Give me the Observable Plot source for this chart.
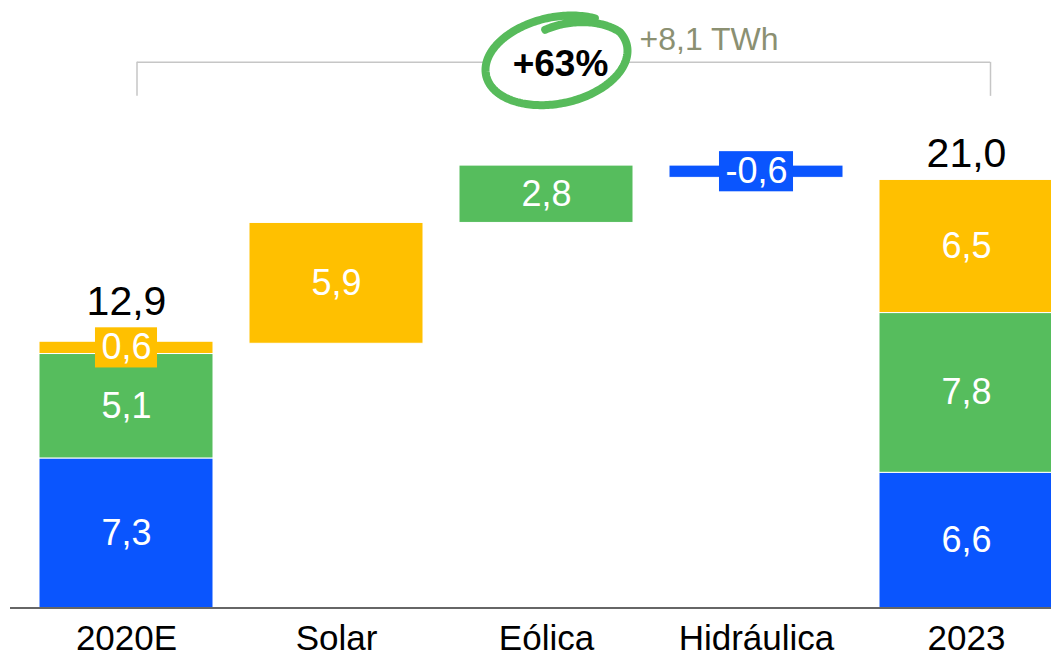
<!DOCTYPE html>
<html>
<head>
<meta charset="utf-8">
<script src="https://cdn.jsdelivr.net/npm/d3@7"></script>
<script src="https://cdn.jsdelivr.net/npm/@observablehq/plot@0.6"></script>
<style>
html, body { margin: 0; padding: 0; background: #fff; overflow: hidden; }
</style>
</head>
<body>
<div id="chart"></div>
<script>
// ---- Data ----
const categories = ["2020E", "Solar", "Eólica", "Hidráulica", "2023"];
const series = ["Hidráulica", "Eólica", "Solar"];
const seriesColors = ["#0a55fe", "#56bd5d", "#ffc000"];
const start2020 = [7.3, 5.1, 0.6];      // Hidráulica, Eólica, Solar
const end2023 = [6.6, 7.8, 6.5];        // Hidráulica, Eólica, Solar
const total2020 = 12.9;
const total2023 = 21.0;
const changeCategories = ["Solar", "Eólica", "Hidráulica"];
const changeValues = [5.9, 2.8, -0.6];
const growthLabel = "+63%";
const growthTWh = "+8,1 TWh";

// ---- Build tables ----
const fmt = v => v.toFixed(1).replace(".", ",");
const segments = [];
function stack(cat, vals) {
  let acc = 0;
  vals.forEach((v, i) => {
    segments.push({cat, series: series[i], y1: acc, y2: acc + v, value: v});
    acc += v;
  });
}
stack("2020E", start2020);
let level = total2020;
changeCategories.forEach((c, i) => {
  const v = changeValues[i];
  segments.push({cat: c, series: c, y1: level, y2: level + v, value: v});
  level += v;
});
stack("2023", end2023);

const boxHalf = 0.98; // half height of label box (in value units)
segments.forEach(d => {
  d.mid = (d.y1 + d.y2) / 2;
  d.label = fmt(d.value);
  d.small = Math.abs(d.value) < 1;
});
const smallSegs = segments.filter(d => d.small);

// approximate label width for background boxes
const glyphW = ch => ch === "," ? 0.278 : ch === "-" ? 0.333 : 0.556;
const labelWidth = s => [...s].reduce((a, c) => a + glyphW(c), 0) * 36 + 13;

const totals = [
  {cat: "2020E", label: fmt(total2020)},
  {cat: "2023", label: fmt(total2023)}
].map(t => {
  const segs = segments.filter(d => d.cat === t.cat);
  const top = d3.max(segs, d => d.small ? d.mid + boxHalf : Math.max(d.y1, d.y2));
  return {...t, top};
});

const bracketTop = 26.64;
const bracketBottom = 24.98;

// hand-drawn loop symbol
const loopSymbol = {
  draw(ctx, size) {
    const r = Math.sqrt(size / Math.PI);
    const a = r, b = r * 0.6, rot = -12 * Math.PI / 180;
    const t0 = 50, t1 = 455, n = 240;
    for (let i = 0; i <= n; i++) {
      const deg = t0 + (t1 - t0) * i / n;
      const t = deg * Math.PI / 180;
      const s = deg > 380 ? 1 - 0.25 * (deg - 380) / 75 : 1;
      const ex = a * s * Math.cos(t), ey = -b * s * Math.sin(t);
      const x = ex * Math.cos(rot) - ey * Math.sin(rot);
      const y = ex * Math.sin(rot) + ey * Math.cos(rot);
      if (i) ctx.lineTo(x, y); else ctx.moveTo(x, y);
    }
  }
};

const font = "'Liberation Sans', Arial, Helvetica, sans-serif";

const chart = Plot.plot({
  width: 1051,
  height: 658,
  marginTop: 0,
  marginBottom: 50.5,
  marginLeft: 10,
  marginRight: 0,
  style: {fontFamily: font, fontSize: "35px", color: "#000", background: "#fff", overflow: "hidden", maxWidth: "none"},
  x: {domain: categories, range: [10, 1082], paddingInner: 0.17, paddingOuter: 0.128, tickSize: 0, tickPadding: 17, label: null},
  y: {domain: [0, 29.66], axis: null},
  color: {domain: series, range: seriesColors},
  marks: [
    Plot.barY(segments, {x: "cat", y1: "y1", y2: "y2", fill: "series", stroke: "white", strokeWidth: 1}),
    ...smallSegs.map(d => {
      const inset = (175 - labelWidth(d.label)) / 2;
      return Plot.barY([d], {x: "cat", y1: v => v.mid - boxHalf, y2: v => v.mid + boxHalf, fill: "series", insetLeft: inset, insetRight: inset});
    }),
    Plot.text(segments, {x: "cat", y: "mid", text: "label", fill: "white", fontSize: 36}),
    Plot.text(totals, {x: "cat", y: "top", text: "label", fill: "black", fontSize: 41, dy: -26}),
    Plot.ruleY([0], {stroke: "#333", strokeWidth: 1.5}),
    // bracket
    Plot.ruleY([{x1: "2020E", x2: "2023", y: bracketTop}], {x1: "x1", x2: "x2", y: "y", insetLeft: 98, insetRight: 63, stroke: "#c6c6c6", strokeWidth: 1.5}),
    Plot.ruleX([{x: "2020E"}], {x: "x", y1: bracketBottom, y2: bracketTop, dx: 10.5, stroke: "#c6c6c6", strokeWidth: 1.5}),
    Plot.ruleX([{x: "2023"}], {x: "x", y1: bracketBottom, y2: bracketTop, dx: 24, stroke: "#c6c6c6", strokeWidth: 1.5}),
    // annotation loop and labels
    Plot.dot([{x: "Eólica", y: bracketTop}], {x: "x", y: "y", dx: 10, dy: -2, r: 72, symbol: loopSymbol, fill: "white", stroke: "#57bb5b", strokeWidth: 8, strokeLinecap: "round", strokeLinejoin: "round", ariaLabel: "loop"}),
    Plot.text([{x: "Eólica", y: bracketTop, t: growthLabel}], {x: "x", y: "y", text: "t", dx: 14, dy: 2, fontSize: 37, fontWeight: "bold", fill: "black"}),
    Plot.text([{x: "Eólica", y: bracketTop, t: growthTWh}], {x: "x", y: "y", text: "t", dx: 93, dy: -23, fontSize: 32, textAnchor: "start", fill: "#8b9072"})
  ]
});

const loop = chart.querySelector('[aria-label="loop"]');
if (loop) loop.style.filter = "drop-shadow(1px 4px 3px rgba(0,0,0,0.35))";

document.getElementById("chart").appendChild(chart);
</script>
</body>
</html>
